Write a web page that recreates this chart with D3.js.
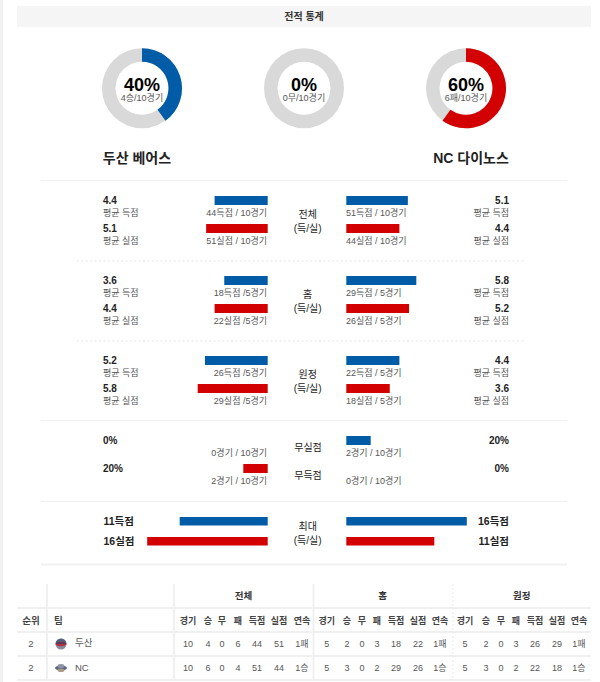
<!DOCTYPE html>
<html><head><meta charset="utf-8">
<script src="https://cdn.jsdelivr.net/npm/d3@7/dist/d3.min.js"></script>
<style>
html,body{margin:0;padding:0;background:#fff}
svg{display:block}
text{font-family:"Liberation Sans","Noto Sans CJK KR",sans-serif}
</style></head><body>
<svg id="c" width="600" height="682"></svg>
<script>
const BLUE="#005ca6", RED="#d20000", GREY="#d9d9d9", LINE="#f0f0f0";

// Season record rings
const ringPercent=[40,0,60];
const ringHeadline=["40%","0%","60%"];
const ringCaption=["4승/10경기","0무/10경기","6패/10경기"];
const ringColor=[BLUE,GREY,RED];
const teamNames=["두산 베어스","NC 다이노스"];

// Average-based comparison rows
const avgGroupNames=[["전체","(득/실)"],["홈","(득/실)"],["원정","(득/실)"]];
const avgLeftFor=[4.4,3.6,5.2];
const avgLeftAgainst=[5.1,4.4,5.8];
const avgRightFor=[5.1,5.8,4.4];
const avgRightAgainst=[4.4,5.2,3.6];
const leftForNotes=["44득점 / 10경기","18득점 /5경기","26득점 /5경기"];
const leftAgainstNotes=["51실점 / 10경기","22실점 /5경기","29실점 /5경기"];
const rightForNotes=["51득점 / 10경기","29득점 / 5경기","22득점 / 5경기"];
const rightAgainstNotes=["44실점 / 10경기","26실점 / 5경기","18실점 / 5경기"];

// Shutout rows
const shutoutNames=["무실점","무득점"];
const shutoutLeft=[0,20];
const shutoutRight=[20,0];
const shutoutLeftNotes=["0경기 / 10경기","2경기 / 10경기"];
const shutoutRightNotes=["2경기 / 10경기","0경기 / 10경기"];

// Highest single-game totals
const maxLeft=[11,16];
const maxRight=[16,11];
const maxLeftLabels=["11득점","16실점"];
const maxRightLabels=["16득점","11실점"];

// Standings table
const tableGroups=["전체","홈","원정"];
const tableSubHeads=["경기","승","무","패","득점","실점","연속"];
const teamRanks=[2,2];
const teamShort=["두산","NC"];
const doosanCells=["10","4","0","6","44","51","1패","5","2","0","3","18","22","1패","5","2","0","3","26","29","1패"];
const ncCells=["10","6","0","4","51","44","1승","5","3","0","2","29","26","1승","5","3","0","2","22","18","1승"];

const svg=d3.select("#c");
const label=(x,y,t,size,fill,anchor,weight)=>svg.append("text")
  .attr("x",x).attr("y",y).attr("font-size",size).attr("fill",fill||"#333")
  .attr("text-anchor",anchor||"start").attr("font-weight",weight||"normal").text(t);
const hline=(y,x1,x2,color,w,dash)=>svg.append("line").attr("x1",x1).attr("x2",x2)
  .attr("y1",y).attr("y2",y).attr("stroke",color).attr("stroke-width",w)
  .attr("stroke-dasharray",dash||null);
const vline=(x,y1,y2,color,w,dash)=>svg.append("line").attr("x1",x).attr("x2",x)
  .attr("y1",y1).attr("y2",y2).attr("stroke",color).attr("stroke-width",w)
  .attr("stroke-dasharray",dash||null);

// Page gutter and section heading
svg.append("rect").attr("x",0).attr("y",0).attr("width",3).attr("height",682).attr("fill","#f2f2f2");
svg.append("rect").attr("x",17).attr("y",6).attr("width",574).attr("height",21).attr("fill","#f5f5f5");
label(304,20,"전적 통계",10,"#333","middle","bold");

// Rings
const ringX=d3.scalePoint().domain(d3.range(3)).range([142,466]);
const arc=d3.arc().innerRadius(26.5).outerRadius(40);
const angle=d3.scaleLinear().domain([0,100]).range([0,2*Math.PI]);
ringPercent.forEach((p,i)=>{
  const g=svg.append("g").attr("transform",`translate(${ringX(i)},88.3)`);
  g.append("path").attr("d",arc({startAngle:0,endAngle:2*Math.PI})).attr("fill",GREY);
  if(p>0) g.append("path").attr("d",arc({startAngle:0,endAngle:angle(p)})).attr("fill",ringColor[i]);
  g.append("text").attr("text-anchor","middle").attr("y",2.5).attr("font-size",18)
    .attr("font-weight","bold").attr("fill","#000").text(ringHeadline[i]);
  g.append("text").attr("text-anchor","middle").attr("y",12.5).attr("font-size",9)
    .attr("fill","#555").text(ringCaption[i]);
});
label(137,163,teamNames[0],14,"#222","middle","bold");
label(471,163,teamNames[1],14,"#222","middle","bold");

// Bar scales, all anchored on the central column
const LEFT0=267.7, RIGHT0=346.3;
const avgW=d3.scaleLinear().domain([0,5.8]).range([0,70]);
const pctW=d3.scaleLinear().domain([0,20]).range([0,24.4]);
const maxW=d3.scaleLinear().domain([0,16]).range([16.5,120.5]);

const leftBar=(y,w,c)=>svg.append("rect").attr("x",LEFT0-w).attr("y",y).attr("width",w).attr("height",9).attr("fill",c);
const rightBar=(y,w,c)=>svg.append("rect").attr("x",RIGHT0).attr("y",y).attr("width",w).attr("height",9).attr("fill",c);

// Averages: three blocks of two rows per side
const blockTop=[196,276,356];
avgGroupNames.forEach((names,i)=>{
  const y=blockTop[i];
  leftBar(y,avgW(avgLeftFor[i]),BLUE);
  leftBar(y+28,avgW(avgLeftAgainst[i]),RED);
  rightBar(y,avgW(avgRightFor[i]),BLUE);
  rightBar(y+28,avgW(avgRightAgainst[i]),RED);

  label(103,y+8,avgLeftFor[i].toFixed(1),10,"#222","start","bold");
  label(103,y+20,"평균 득점",9,"#555");
  label(103,y+36,avgLeftAgainst[i].toFixed(1),10,"#222","start","bold");
  label(103,y+48,"평균 실점",9,"#555");
  label(509,y+8,avgRightFor[i].toFixed(1),10,"#222","end","bold");
  label(509,y+20,"평균 득점",9,"#555","end");
  label(509,y+36,avgRightAgainst[i].toFixed(1),10,"#222","end","bold");
  label(509,y+48,"평균 실점",9,"#555","end");

  label(267,y+20,leftForNotes[i],9,"#555","end");
  label(267,y+48,leftAgainstNotes[i],9,"#555","end");
  label(346,y+20,rightForNotes[i],9,"#555");
  label(346,y+48,rightAgainstNotes[i],9,"#555");

  label(307.7,y+22,names[0],10,"#222","middle");
  label(307.7,y+36,names[1],10,"#222","middle");
});

// Shutouts
const shutY=[436,464];
shutoutNames.forEach((n,i)=>{
  const y=shutY[i];
  if(shutoutLeft[i]>0) leftBar(y,pctW(shutoutLeft[i]),RED);
  if(shutoutRight[i]>0) rightBar(y,pctW(shutoutRight[i]),BLUE);
  label(103,y+8,shutoutLeft[i]+"%",10,"#222","start","bold");
  label(509,y+8,shutoutRight[i]+"%",10,"#222","end","bold");
  label(267,y+20,shutoutLeftNotes[i],9,"#555","end");
  label(346,y+20,shutoutRightNotes[i],9,"#555");
  label(308,y+15,n,10,"#222","middle");
});

// Highest totals
const maxY=[517,537];
[0,1].forEach(i=>{
  const c=i?RED:BLUE;
  svg.append("rect").attr("x",LEFT0-maxW(maxLeft[i])).attr("y",maxY[i]).attr("width",maxW(maxLeft[i])).attr("height",8.5).attr("fill",c);
  svg.append("rect").attr("x",RIGHT0).attr("y",maxY[i]).attr("width",maxW(maxRight[i])).attr("height",8.5).attr("fill",c);
  label(103.5,maxY[i]+8,maxLeftLabels[i],10.5,"#222","start","bold");
  label(509,maxY[i]+8,maxRightLabels[i],10.5,"#222","end","bold");
});
label(307.7,529.5,"최대",10,"#222","middle");
label(307.7,544,"(득/실)",10,"#222","middle");

// Section separators
hline(180.5,41,567,LINE,1);
hline(261,77,525,"#e6e6e6",1,"2 2.4");
hline(341,77,525,"#e6e6e6",1,"2 2.4");
hline(420.5,41,567,LINE,1);
hline(501.5,41,567,LINE,1);
hline(564.5,41,567,LINE,2);

// Standings table
const rowLines=[608,632,656,680];
rowLines.forEach(y=>hline(y,17,591,LINE,2));
vline(47,584,680,LINE,2);
vline(174,584,680,LINE,2);
vline(313.5,584,680,LINE,2);
vline(453,584,680,LINE,1.5,"2 2");

const groupCenters=[243.5,382.7,521.7];
tableGroups.forEach((g,i)=>label(groupCenters[i],599,g,9.5,"#333","middle","bold"));
label(31,624,"순위",9.5,"#444","middle","bold");
label(54,624,"팀",9.5,"#444","start","bold");

const cellX=[188,208,222,238,257,279,302, 326.7,347,362,377,396,418,440, 465,486,501,516,535,557,579];
d3.range(21).forEach(i=>label(cellX[i],624,tableSubHeads[i%7],9,"#444","middle","bold"));

const rowY=[647,671];
[doosanCells,ncCells].forEach((cells,r)=>{
  label(31,rowY[r],teamRanks[r],9.5,"#555","middle");
  cells.forEach((c,i)=>label(cellX[i],rowY[r],c,9,"#555","middle"));
  label(75,rowY[r]-(r?0.5:1),teamShort[r],9.5,"#555");
  // Club badges
  const b=svg.append("g").attr("transform",`translate(61,${rowY[r]-3})`);
  if(r===0){
    b.append("circle").attr("r",5.5).attr("fill","#8a8a9a");
    b.append("ellipse").attr("rx",5.5).attr("ry",2.2).attr("fill","#b03040");
    b.append("path").attr("d",d3.arc().innerRadius(0).outerRadius(5.5)({startAngle:-Math.PI/2,endAngle:Math.PI/2})).attr("fill","#2a3a60").attr("opacity",.55);
  } else {
    b.append("ellipse").attr("rx",6).attr("ry",2.4).attr("fill","#5a6a88");
    b.append("ellipse").attr("cy",-2).attr("rx",3.5).attr("ry",2).attr("fill","#8d93a3");
    b.append("ellipse").attr("cy",2.2).attr("rx",3.5).attr("ry",1.8).attr("fill","#a99a80");
  }
});
</script>
</body></html>
